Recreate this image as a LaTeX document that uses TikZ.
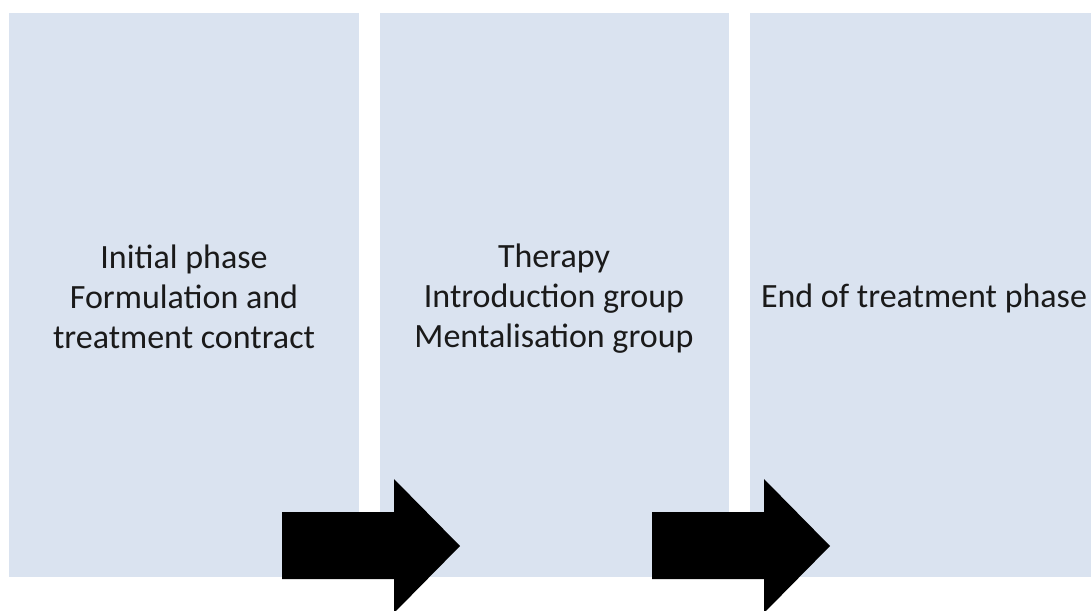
\documentclass[tikz,border=0pt]{standalone}
\usepackage{fontspec}
\setmainfont{Carlito}
\definecolor{panelblue}{HTML}{DAE3F0}
\definecolor{txt}{HTML}{1A1A1A}
\begin{document}
\begin{tikzpicture}[x=1pt,y=-1pt,
  panel/.style={fill=panelblue,draw=none},
  label/.style={align=center,text=txt,font=\fontsize{34}{40}\selectfont,inner sep=0pt},
  blockarrow/.style={fill=black,draw=none}]
\useasboundingbox (0,0) rectangle (1091,610);
\fill[white] (0,0) rectangle (1091,610);
\begin{scope}
\clip (0,0) rectangle (1091,610);
\path[panel] (9,13) rectangle (359,577);
\path[panel] (380,13) rectangle (729,577);
\path[panel] (750,13) rectangle (1099,577);
\node[label] (p1) at (184,297) {Initial phase\\Formulation and\\treatment contract};
\node[label] (p2) at (554,299) {Therapy\\Introduction group\\Mentalisation group};
\node[label,anchor=base] (p3) at (924,307) {End of treatment phase};
\path[blockarrow] (282,512) -- (394,512) -- (394,479) -- (460,546) -- (394,613) -- (394,579) -- (282,579) -- cycle;
\path[blockarrow] (652,512) -- (764,512) -- (764,479) -- (830,546) -- (764,613) -- (764,579) -- (652,579) -- cycle;
\end{scope}
\end{tikzpicture}
\end{document}
